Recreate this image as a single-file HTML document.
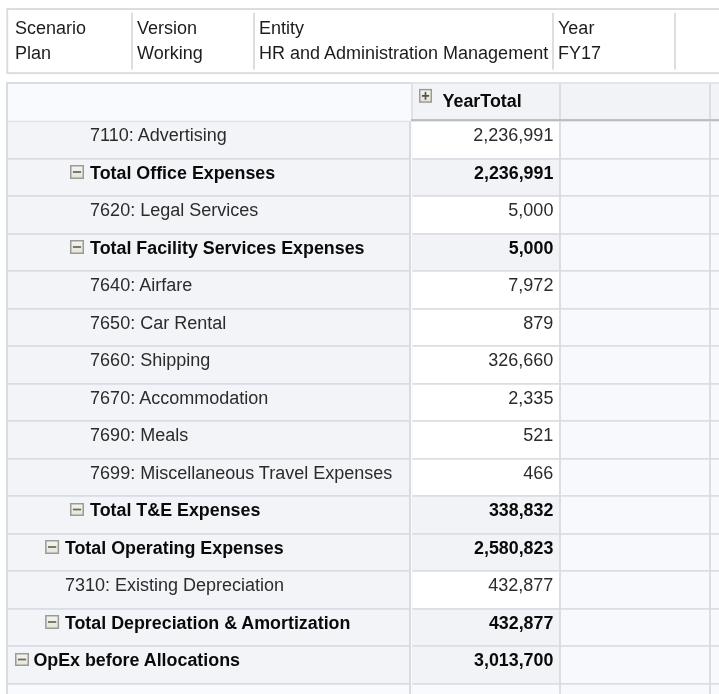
<!DOCTYPE html>
<html><head><meta charset="utf-8"><title>Form</title>
<style>
html,body{margin:0;padding:0;}
body{width:719px;height:694px;overflow:hidden;background:#fff;position:relative;
 font-family:"Liberation Sans",sans-serif;font-size:18px;color:#333;}
svg{position:absolute;left:0;top:0;}
#tx{position:absolute;left:0;top:0;width:719px;height:694px;will-change:transform;}
#tx div{position:absolute;box-sizing:border-box;white-space:nowrap;}
.pt{line-height:25.5px;color:#1c1c1c;}
.t{line-height:20px;color:#2b2b2b;}
.b{font-weight:bold;color:#0a0a0a;font-size:17.85px;}
.n{text-align:right;}
</style></head><body>

<svg width="719" height="694" viewBox="0 0 719 694">
<defs><linearGradient id="ig" x1="0" y1="0" x2="0" y2="1"><stop offset="0" stop-color="#f4f4ee"/><stop offset="1" stop-color="#e5e5dc"/></linearGradient></defs>
<rect x="6.30" y="8.10" width="720.00" height="66.00" fill="#d7dce1"/>
<rect x="8.20" y="10.00" width="720.00" height="62.20" fill="#ffffff"/>
<rect x="131.10" y="12.80" width="1.80" height="56.80" fill="#d7dce2"/>
<rect x="253.10" y="12.80" width="1.80" height="56.80" fill="#d7dce2"/>
<rect x="552.10" y="12.80" width="1.80" height="56.80" fill="#d7dce2"/>
<rect x="674.10" y="12.80" width="1.80" height="56.80" fill="#d7dce2"/>
<rect x="6.00" y="82.00" width="720.00" height="620.00" fill="#d9dde2"/>
<rect x="8.00" y="84.00" width="404.00" height="37.00" fill="#f8fafd"/>
<rect x="8.00" y="121.00" width="402.00" height="600.00" fill="#f2f4f8"/>
<rect x="411.00" y="82.00" width="310.00" height="1.60" fill="#e0e3e7"/>
<rect x="411.00" y="83.60" width="310.00" height="36.40" fill="#f1f3f7"/>
<rect x="410.80" y="121.50" width="1.60" height="600.00" fill="#fafbfd"/>
<rect x="412.20" y="120.70" width="147.80" height="38.00" fill="#ffffff"/>
<rect x="560.00" y="120.70" width="160.00" height="38.00" fill="#f8f9fc"/>
<rect x="412.20" y="158.05" width="147.80" height="38.00" fill="#f1f3f6"/>
<rect x="560.00" y="158.05" width="160.00" height="38.00" fill="#f8f9fc"/>
<rect x="412.20" y="195.05" width="147.80" height="38.00" fill="#ffffff"/>
<rect x="560.00" y="195.05" width="160.00" height="38.00" fill="#f8f9fc"/>
<rect x="412.20" y="233.05" width="147.80" height="38.00" fill="#f1f3f6"/>
<rect x="560.00" y="233.05" width="160.00" height="38.00" fill="#f8f9fc"/>
<rect x="412.20" y="270.05" width="147.80" height="38.00" fill="#ffffff"/>
<rect x="560.00" y="270.05" width="160.00" height="38.00" fill="#f8f9fc"/>
<rect x="412.20" y="308.05" width="147.80" height="38.00" fill="#ffffff"/>
<rect x="560.00" y="308.05" width="160.00" height="38.00" fill="#f8f9fc"/>
<rect x="412.20" y="345.05" width="147.80" height="38.00" fill="#ffffff"/>
<rect x="560.00" y="345.05" width="160.00" height="38.00" fill="#f8f9fc"/>
<rect x="412.20" y="383.05" width="147.80" height="38.00" fill="#ffffff"/>
<rect x="560.00" y="383.05" width="160.00" height="38.00" fill="#f8f9fc"/>
<rect x="412.20" y="420.05" width="147.80" height="38.00" fill="#ffffff"/>
<rect x="560.00" y="420.05" width="160.00" height="38.00" fill="#f8f9fc"/>
<rect x="412.20" y="458.05" width="147.80" height="38.00" fill="#ffffff"/>
<rect x="560.00" y="458.05" width="160.00" height="38.00" fill="#f8f9fc"/>
<rect x="412.20" y="495.05" width="147.80" height="38.00" fill="#f1f3f6"/>
<rect x="560.00" y="495.05" width="160.00" height="38.00" fill="#f8f9fc"/>
<rect x="412.20" y="533.05" width="147.80" height="38.00" fill="#f1f3f6"/>
<rect x="560.00" y="533.05" width="160.00" height="38.00" fill="#f8f9fc"/>
<rect x="412.20" y="570.05" width="147.80" height="38.00" fill="#ffffff"/>
<rect x="560.00" y="570.05" width="160.00" height="38.00" fill="#f8f9fc"/>
<rect x="412.20" y="608.05" width="147.80" height="38.00" fill="#f1f3f6"/>
<rect x="560.00" y="608.05" width="160.00" height="38.00" fill="#f8f9fc"/>
<rect x="412.20" y="645.05" width="147.80" height="38.00" fill="#f1f3f6"/>
<rect x="560.00" y="645.05" width="160.00" height="38.00" fill="#f8f9fc"/>
<rect x="412.20" y="683.05" width="147.80" height="38.00" fill="#f8fafd"/>
<rect x="8.00" y="683.05" width="402.00" height="38.00" fill="#f8fafd"/>
<rect x="560.00" y="683.05" width="160.00" height="38.00" fill="#f8f9fc"/>
<rect x="710.00" y="121.50" width="10.00" height="620.00" fill="#f8f9fc"/>
<rect x="8.00" y="158.05" width="402.00" height="1.70" fill="#d7dce2"/>
<rect x="412.30" y="158.05" width="308.00" height="1.70" fill="#d9dee4"/>
<rect x="8.00" y="195.05" width="402.00" height="1.70" fill="#d7dce2"/>
<rect x="412.30" y="195.05" width="308.00" height="1.70" fill="#d9dee4"/>
<rect x="8.00" y="233.05" width="402.00" height="1.70" fill="#d7dce2"/>
<rect x="412.30" y="233.05" width="308.00" height="1.70" fill="#d9dee4"/>
<rect x="8.00" y="270.05" width="402.00" height="1.70" fill="#d7dce2"/>
<rect x="412.30" y="270.05" width="308.00" height="1.70" fill="#d9dee4"/>
<rect x="8.00" y="308.05" width="402.00" height="1.70" fill="#d7dce2"/>
<rect x="412.30" y="308.05" width="308.00" height="1.70" fill="#d9dee4"/>
<rect x="8.00" y="345.05" width="402.00" height="1.70" fill="#d7dce2"/>
<rect x="412.30" y="345.05" width="308.00" height="1.70" fill="#d9dee4"/>
<rect x="8.00" y="383.05" width="402.00" height="1.70" fill="#d7dce2"/>
<rect x="412.30" y="383.05" width="308.00" height="1.70" fill="#d9dee4"/>
<rect x="8.00" y="420.05" width="402.00" height="1.70" fill="#d7dce2"/>
<rect x="412.30" y="420.05" width="308.00" height="1.70" fill="#d9dee4"/>
<rect x="8.00" y="458.05" width="402.00" height="1.70" fill="#d7dce2"/>
<rect x="412.30" y="458.05" width="308.00" height="1.70" fill="#d9dee4"/>
<rect x="8.00" y="495.05" width="402.00" height="1.70" fill="#d7dce2"/>
<rect x="412.30" y="495.05" width="308.00" height="1.70" fill="#d9dee4"/>
<rect x="8.00" y="533.05" width="402.00" height="1.70" fill="#d7dce2"/>
<rect x="412.30" y="533.05" width="308.00" height="1.70" fill="#d9dee4"/>
<rect x="8.00" y="570.05" width="402.00" height="1.70" fill="#d7dce2"/>
<rect x="412.30" y="570.05" width="308.00" height="1.70" fill="#d9dee4"/>
<rect x="8.00" y="608.05" width="402.00" height="1.70" fill="#d7dce2"/>
<rect x="412.30" y="608.05" width="308.00" height="1.70" fill="#d9dee4"/>
<rect x="8.00" y="645.05" width="402.00" height="1.70" fill="#d7dce2"/>
<rect x="412.30" y="645.05" width="308.00" height="1.70" fill="#d9dee4"/>
<rect x="8.00" y="683.05" width="402.00" height="1.70" fill="#d7dce2"/>
<rect x="412.30" y="683.05" width="308.00" height="1.70" fill="#d9dee4"/>
<rect x="8.00" y="720.05" width="402.00" height="1.70" fill="#d7dce2"/>
<rect x="412.30" y="720.05" width="308.00" height="1.70" fill="#d9dee4"/>
<rect x="409.00" y="121.00" width="1.90" height="600.00" fill="#d8dce2"/>
<rect x="411.00" y="83.60" width="2.00" height="36.00" fill="#dfe2e7"/>
<rect x="559.10" y="84.00" width="1.80" height="620.00" fill="#d8dce2"/>
<rect x="709.10" y="84.00" width="1.80" height="620.00" fill="#d8dce2"/>
<rect x="8.00" y="120.80" width="403.00" height="1.30" fill="#dde1e6"/>
<rect x="411.00" y="119.10" width="310.00" height="2.00" fill="#b9bcc0"/>
<rect x="411.00" y="121.10" width="310.00" height="0.80" fill="#dfe2e6"/>
<rect x="419.00" y="88.90" width="13.00" height="13.90" fill="#9b9b95"/>
<rect x="420.50" y="90.40" width="10.00" height="10.90" fill="url(#ig)"/>
<rect x="421.90" y="94.95" width="7.2" height="1.8" fill="#55554e"/>
<rect x="424.65" y="91.95" width="1.7" height="7.8" fill="#55554e"/>
<rect x="70.00" y="165.00" width="14.00" height="14.00" fill="#9b9b95"/>
<rect x="71.50" y="166.50" width="11.00" height="11.00" fill="url(#ig)"/>
<rect x="72.90" y="171.15" width="8.2" height="1.7" fill="#66665c"/>
<rect x="70.00" y="240.00" width="14.00" height="14.00" fill="#9b9b95"/>
<rect x="71.50" y="241.50" width="11.00" height="11.00" fill="url(#ig)"/>
<rect x="72.90" y="246.15" width="8.2" height="1.7" fill="#66665c"/>
<rect x="70.00" y="503.00" width="14.00" height="13.00" fill="#9b9b95"/>
<rect x="71.50" y="504.50" width="11.00" height="10.00" fill="url(#ig)"/>
<rect x="72.90" y="508.65" width="8.2" height="1.7" fill="#66665c"/>
<rect x="45.10" y="540.00" width="14.00" height="14.00" fill="#9b9b95"/>
<rect x="46.60" y="541.50" width="11.00" height="11.00" fill="url(#ig)"/>
<rect x="48.00" y="546.15" width="8.2" height="1.7" fill="#66665c"/>
<rect x="45.10" y="615.00" width="14.00" height="14.00" fill="#9b9b95"/>
<rect x="46.60" y="616.50" width="11.00" height="11.00" fill="url(#ig)"/>
<rect x="48.00" y="621.15" width="8.2" height="1.7" fill="#66665c"/>
<rect x="15.00" y="653.00" width="14.00" height="13.00" fill="#9b9b95"/>
<rect x="16.50" y="654.50" width="11.00" height="10.00" fill="url(#ig)"/>
<rect x="17.90" y="658.65" width="8.2" height="1.7" fill="#66665c"/>
</svg>
<div id="tx">
<div class="pt" style="left:15px;top:15.6px">Scenario</div>
<div class="pt" style="left:15px;top:40.6px">Plan</div>
<div class="pt" style="left:137px;top:15.6px">Version</div>
<div class="pt" style="left:137px;top:40.6px">Working</div>
<div class="pt" style="left:259px;top:15.6px">Entity</div>
<div class="pt" style="left:259px;top:40.6px">HR and Administration Management</div>
<div class="pt" style="left:558px;top:15.6px">Year</div>
<div class="pt" style="left:558px;top:40.6px">FY17</div>
<div class="t b" style="left:442.6px;top:90.8px">YearTotal</div>
<div class="t" style="left:90.1px;top:124.60px">7110: Advertising</div>
<div class="t n" style="left:412px;width:141.4px;top:124.60px">2,236,991</div>
<div class="t b" style="left:90.1px;top:162.60px">Total Office Expenses</div>
<div class="t b n" style="left:412px;width:141.4px;top:162.60px">2,236,991</div>
<div class="t" style="left:90.1px;top:199.60px">7620: Legal Services</div>
<div class="t n" style="left:412px;width:141.4px;top:199.60px">5,000</div>
<div class="t b" style="left:90.1px;top:237.60px">Total Facility Services Expenses</div>
<div class="t b n" style="left:412px;width:141.4px;top:237.60px">5,000</div>
<div class="t" style="left:90.1px;top:274.60px">7640: Airfare</div>
<div class="t n" style="left:412px;width:141.4px;top:274.60px">7,972</div>
<div class="t" style="left:90.1px;top:312.60px">7650: Car Rental</div>
<div class="t n" style="left:412px;width:141.4px;top:312.60px">879</div>
<div class="t" style="left:90.1px;top:349.60px">7660: Shipping</div>
<div class="t n" style="left:412px;width:141.4px;top:349.60px">326,660</div>
<div class="t" style="left:90.1px;top:387.60px">7670: Accommodation</div>
<div class="t n" style="left:412px;width:141.4px;top:387.60px">2,335</div>
<div class="t" style="left:90.1px;top:424.60px">7690: Meals</div>
<div class="t n" style="left:412px;width:141.4px;top:424.60px">521</div>
<div class="t" style="left:90.1px;top:462.60px">7699: Miscellaneous Travel Expenses</div>
<div class="t n" style="left:412px;width:141.4px;top:462.60px">466</div>
<div class="t b" style="left:90.1px;top:499.60px">Total T&amp;E Expenses</div>
<div class="t b n" style="left:412px;width:141.4px;top:499.60px">338,832</div>
<div class="t b" style="left:64.9px;top:537.60px">Total Operating Expenses</div>
<div class="t b n" style="left:412px;width:141.4px;top:537.60px">2,580,823</div>
<div class="t" style="left:64.9px;top:574.60px">7310: Existing Depreciation</div>
<div class="t n" style="left:412px;width:141.4px;top:574.60px">432,877</div>
<div class="t b" style="left:64.9px;top:612.60px">Total Depreciation &amp; Amortization</div>
<div class="t b n" style="left:412px;width:141.4px;top:612.60px">432,877</div>
<div class="t b" style="left:33.4px;top:649.60px">OpEx before Allocations</div>
<div class="t b n" style="left:412px;width:141.4px;top:649.60px">3,013,700</div>
</div>
</body></html>
